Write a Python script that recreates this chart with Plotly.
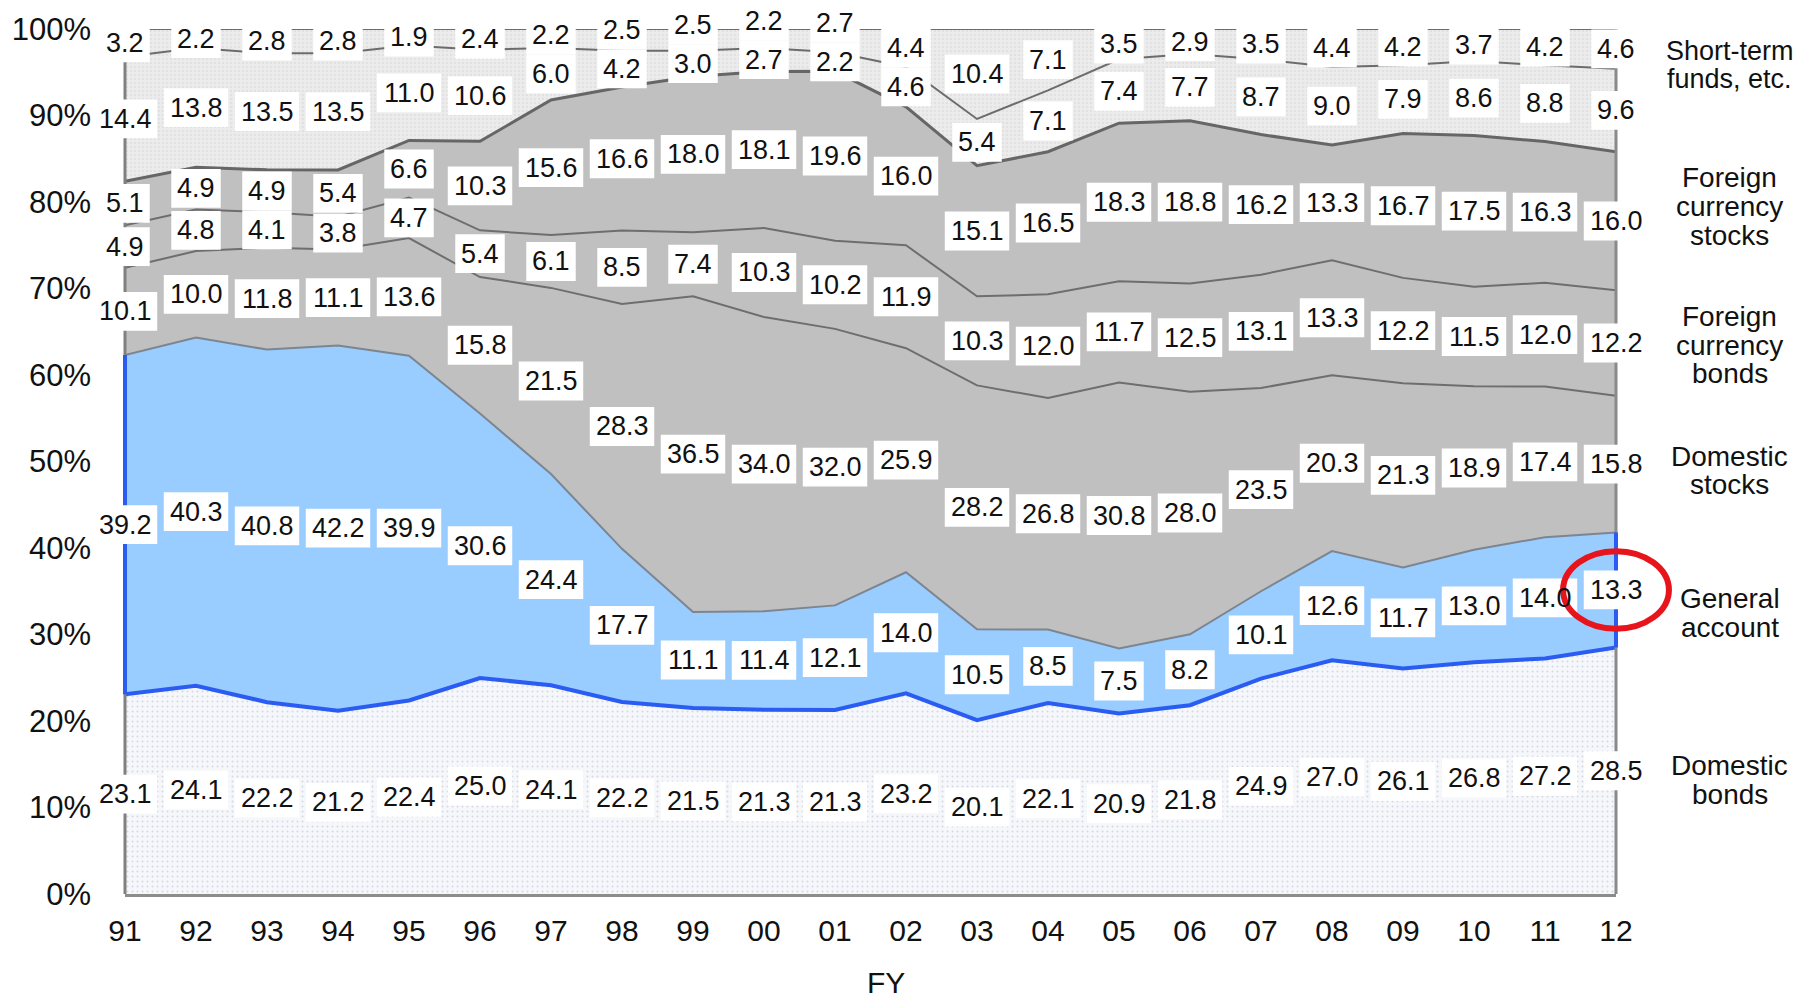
import plotly.graph_objects as go

# Fiscal years (x categories)
years = ["91", "92", "93", "94", "95", "96", "97", "98", "99", "00", "01",
         "02", "03", "04", "05", "06", "07", "08", "09", "10", "11", "12"]

# Asset composition, % of total, stacked bottom -> top
domestic_bonds = [23.1, 24.1, 22.2, 21.2, 22.4, 25.0, 24.1, 22.2, 21.5, 21.3, 21.3,
                  23.2, 20.1, 22.1, 20.9, 21.8, 24.9, 27.0, 26.1, 26.8, 27.2, 28.5]
general_account = [39.2, 40.3, 40.8, 42.2, 39.9, 30.6, 24.4, 17.7, 11.1, 11.4, 12.1,
                   14.0, 10.5, 8.5, 7.5, 8.2, 10.1, 12.6, 11.7, 13.0, 14.0, 13.3]
domestic_stocks = [10.1, 10.0, 11.8, 11.1, 13.6, 15.8, 21.5, 28.3, 36.5, 34.0, 32.0,
                   25.9, 28.2, 26.8, 30.8, 28.0, 23.5, 20.3, 21.3, 18.9, 17.4, 15.8]
foreign_bonds = [4.9, 4.8, 4.1, 3.8, 4.7, 5.4, 6.1, 8.5, 7.4, 10.3, 10.2,
                 11.9, 10.3, 12.0, 11.7, 12.5, 13.1, 13.3, 12.2, 11.5, 12.0, 12.2]
foreign_stocks = [5.1, 4.9, 4.9, 5.4, 6.6, 10.3, 15.6, 16.6, 18.0, 18.1, 19.6,
                  16.0, 15.1, 16.5, 18.3, 18.8, 16.2, 13.3, 16.7, 17.5, 16.3, 16.0]
short_term_funds = [14.4, 13.8, 13.5, 13.5, 11.0, 10.6, 6.0, 4.2, 3.0, 2.7, 2.2,
                    4.6, 5.4, 7.1, 7.4, 7.7, 8.7, 9.0, 7.9, 8.6, 8.8, 9.6]
other_short_term = [3.2, 2.2, 2.8, 2.8, 1.9, 2.4, 2.2, 2.5, 2.5, 2.2, 2.7,
                    4.4, 10.4, 7.1, 3.5, 2.9, 3.5, 4.4, 4.2, 3.7, 4.2, 4.6]

y_ticks = [0, 10, 20, 30, 40, 50, 60, 70, 80, 90, 100]

# Side labels: (lines, pixel y of each line, font size)
side_labels = [
    (["Short-term", "funds, etc."], [47, 75], 27),
    (["Foreign", "currency", "stocks"], [174, 203, 232], 28),
    (["Foreign", "currency", "bonds"], [314, 343, 371], 28),
    (["Domestic", "stocks"], [454, 483], 28),
    (["General", "account"], [597, 626], 28),
    (["Domestic", "bonds"], [765, 794], 28),
]

# ---- geometry / style ----
W, H = 1809, 998
ML, MR, MT, MB = 123, 193, 25, 104
PW, PH = W - ML - MR, H - MT - MB
FONT = "Liberation Sans, Arial, sans-serif"
LABEL_SIZE = 27
GRAY_FILL = "#c0c0c0"
GRAY_LINE = "#6e6e6e"
BLUE_LINE = "#2b5cf2"
GRANITE = dict(shape=".", size=4, solidity=0.3, fgcolor="#d6d6d6", bgcolor="#ececec")

series = [
    dict(name="Domestic bonds", y=domestic_bonds, line=dict(color=BLUE_LINE, width=4),
         pattern=dict(shape=".", size=5, solidity=0.12, fgcolor="#aeb8cc", bgcolor="#f6f7fa")),
    dict(name="General account", y=general_account, line=dict(color="#7d8590", width=2),
         fill="#99ccff"),
    dict(name="Domestic stocks", y=domestic_stocks, line=dict(color=GRAY_LINE, width=2),
         fill=GRAY_FILL),
    dict(name="Foreign currency bonds", y=foreign_bonds, line=dict(color=GRAY_LINE, width=2),
         fill=GRAY_FILL),
    dict(name="Foreign currency stocks", y=foreign_stocks, line=dict(color="#666666", width=3),
         fill=GRAY_FILL),
    dict(name="Short-term funds, etc.", y=short_term_funds, line=dict(color="#6c6c6c", width=2),
         pattern=GRANITE),
    dict(name="Short-term funds, etc. (other)", y=other_short_term,
         line=dict(color="#6c6c6c", width=2), pattern=GRANITE),
]

fig = go.Figure()
for k, s in enumerate(series):
    kw = dict(x=years, y=s["y"], name=s["name"], mode="lines", stackgroup="assets",
              line=dict(s["line"], shape="linear"), hoverinfo="skip")
    if k == 0:
        kw["groupnorm"] = "percent"
    if "pattern" in s:
        kw["fillcolor"] = s["pattern"]["bgcolor"]
        kw["fillpattern"] = s["pattern"]
    else:
        kw["fillcolor"] = s["fill"]
    fig.add_trace(go.Scatter(**kw))

# Normalised cumulative bounds (same as the stackgroup's groupnorm)
n = len(years)
totals = [sum(s["y"][i] for s in series) for i in range(n)]
bounds = []  # (lower, upper) per series
base = [0.0] * n
for s in series:
    upper = [base[i] + s["y"][i] / totals[i] * 100 for i in range(n)]
    bounds.append((base[:], upper))
    base = upper

px_y = PH / 100.0        # pixels per percent


def xp(i):
    return i / (n - 1)


def yp(v):
    return v / 100.0


shapes = []
# side edges of the stacked area
shapes.append(dict(type="line", xref="paper", yref="paper", x0=0, x1=0, y0=0,
                   y1=yp(bounds[5][1][0]), line=dict(color="#808080", width=3), layer="above"))
shapes.append(dict(type="line", xref="paper", yref="paper", x0=1, x1=1, y0=0, y1=1,
                   line=dict(color="#8a8a8a", width=3), layer="above"))
for idx in (0, n - 1):
    shapes.append(dict(type="line", xref="paper", yref="paper", x0=xp(idx), x1=xp(idx),
                       y0=yp(bounds[1][0][idx]), y1=yp(bounds[1][1][idx]),
                       line=dict(color=BLUE_LINE, width=4), layer="above"))


def text_px(t):
    return sum(0.278 if c == "." else 0.556 for c in t) * LABEL_SIZE


# label centres: middle of each band, nudged upward where boxes would collide
BOX_H = 39
BOX_PAD = 12
min_sep = BOX_H / px_y
centres = []
for k, (lo, hi) in enumerate(bounds):
    centres.append([(lo[i] + hi[i]) / 2 for i in range(n)])
for i in range(n):
    for k in range(5, len(series)):
        if centres[k][i] < centres[k - 1][i] + min_sep:
            centres[k][i] = centres[k - 1][i] + min_sep

annotations = []
for k, s in enumerate(series):
    for i in range(n):
        t = f"{s['y'][i]:.1f}"
        ym = centres[k][i]
        half_w = (text_px(t) + BOX_PAD) / 2 / PW
        half_h = BOX_H / 2 / PH
        shapes.append(dict(type="rect", xref="paper", yref="paper",
                           x0=xp(i) - half_w, x1=xp(i) + half_w,
                           y0=yp(ym) - half_h, y1=yp(ym) + half_h, fillcolor="white",
                           line=dict(width=0), layer="above"))
        annotations.append(dict(x=xp(i), y=yp(ym), xref="paper", yref="paper", text=t,
                                showarrow=False, xanchor="center", yanchor="middle",
                                font=dict(family=FONT, size=LABEL_SIZE, color="#111111")))

# red ring around the latest general-account figure
gi = n - 1
gy = centres[1][gi]
rx, ry = 53 / PW, 39 / PH
shapes.append(dict(type="circle", xref="paper", yref="paper", x0=xp(gi) - rx, x1=xp(gi) + rx,
                   y0=yp(gy) - ry, y1=yp(gy) + ry, line=dict(color="#e8141c", width=6),
                   fillcolor="rgba(0,0,0,0)", layer="above"))

# category names at the right
for lines, ys, size in side_labels:
    for line_text, ypx in zip(lines, ys):
        annotations.append(dict(x=(1730 - ML) / PW, y=(H - MB - ypx) / PH, xref="paper",
                                yref="paper", text=line_text, showarrow=False,
                                xanchor="center", yanchor="middle",
                                font=dict(family=FONT, size=size, color="#111111")))

# x-axis title
annotations.append(dict(x=(885 - ML) / PW, y=(H - MB - 983) / PH, xref="paper", yref="paper",
                        text="FY", showarrow=False, xanchor="center", yanchor="middle",
                        font=dict(family=FONT, size=30, color="#111111")))

fig.update_layout(
    width=W, height=H,
    margin=dict(l=ML, r=MR, t=MT, b=MB, pad=0),
    paper_bgcolor="white", plot_bgcolor="white",
    showlegend=False,
    shapes=shapes, annotations=annotations,
    font=dict(family=FONT, color="#111111"),
    xaxis=dict(type="category", range=[0, n - 1], showgrid=False, zeroline=False,
               showline=True, linecolor="#8c8c8c", linewidth=3, ticks="",
               tickfont=dict(size=30), ticklabelstandoff=8),
    yaxis=dict(range=[0, 100], tickvals=y_ticks, ticktext=[f"{v}%" for v in y_ticks],
               showgrid=False, zeroline=False, showline=False, ticks="",
               tickfont=dict(size=31), ticklabelstandoff=33),
)

fig.write_html("out.html")
